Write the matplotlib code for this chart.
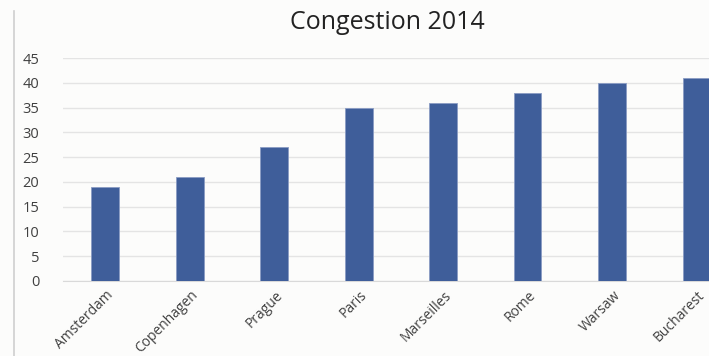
import matplotlib.pyplot as plt
import matplotlib.transforms as mtransforms
from matplotlib.lines import Line2D

cities = ['Amsterdam', 'Copenhagen', 'Prague', 'Paris', 'Marseilles', 'Rome', 'Warsaw', 'Bucharest']
congestion = [19, 21, 27, 35, 36, 38, 40, 41]
yticks = [0, 5, 10, 15, 20, 25, 30, 35, 40, 45]

plt.rcParams['font.family'] = ['Open Sans', 'DejaVu Sans']

fig = plt.figure(figsize=(7.09, 3.56), dpi=100)
fig.patch.set_facecolor('#fcfcfb')

# axes stretches past the right edge, like the cropped original
ax = fig.add_axes([0.0889, 0.2107, 0.953, 0.6263])
ax.set_facecolor('#fcfcfb')
x = range(len(cities))
ax.bar(x, congestion, width=0.33, color='#3f5e9a', edgecolor='#8a9cc4', linewidth=0.6, zorder=3)
ax.set_xlim(-0.5, len(cities) - 0.5)
ax.set_ylim(0, 45)
ax.set_yticks(yticks)
ax.yaxis.grid(True, color='#e4e4e4', linewidth=1, zorder=0)
for s in ['top', 'right', 'left']:
    ax.spines[s].set_visible(False)
ax.spines['bottom'].set_color('#d9d9d9')
ax.tick_params(axis='y', length=0, pad=17, labelsize=10.5, labelcolor='#404040')
ax.tick_params(axis='x', length=0, pad=5, labelsize=10, labelcolor='#404040')
ax.set_xticks(list(x))
ax.set_xticklabels(cities, rotation=45, ha='right', rotation_mode='anchor')
shift = mtransforms.ScaledTranslation(1 / 100, 0, fig.dpi_scale_trans)
for lab in ax.get_xticklabels():
    lab.set_transform(lab.get_transform() + shift)

fig.text(0.547, 0.938, 'Congestion 2014', ha='center', va='center', fontsize=18, color='#222222')
fig.add_artist(Line2D([0.02, 0.02], [0, 0.97], color='#cfcfcf', linewidth=1.2))

fig.savefig('out.png', dpi=100, facecolor=fig.get_facecolor())
